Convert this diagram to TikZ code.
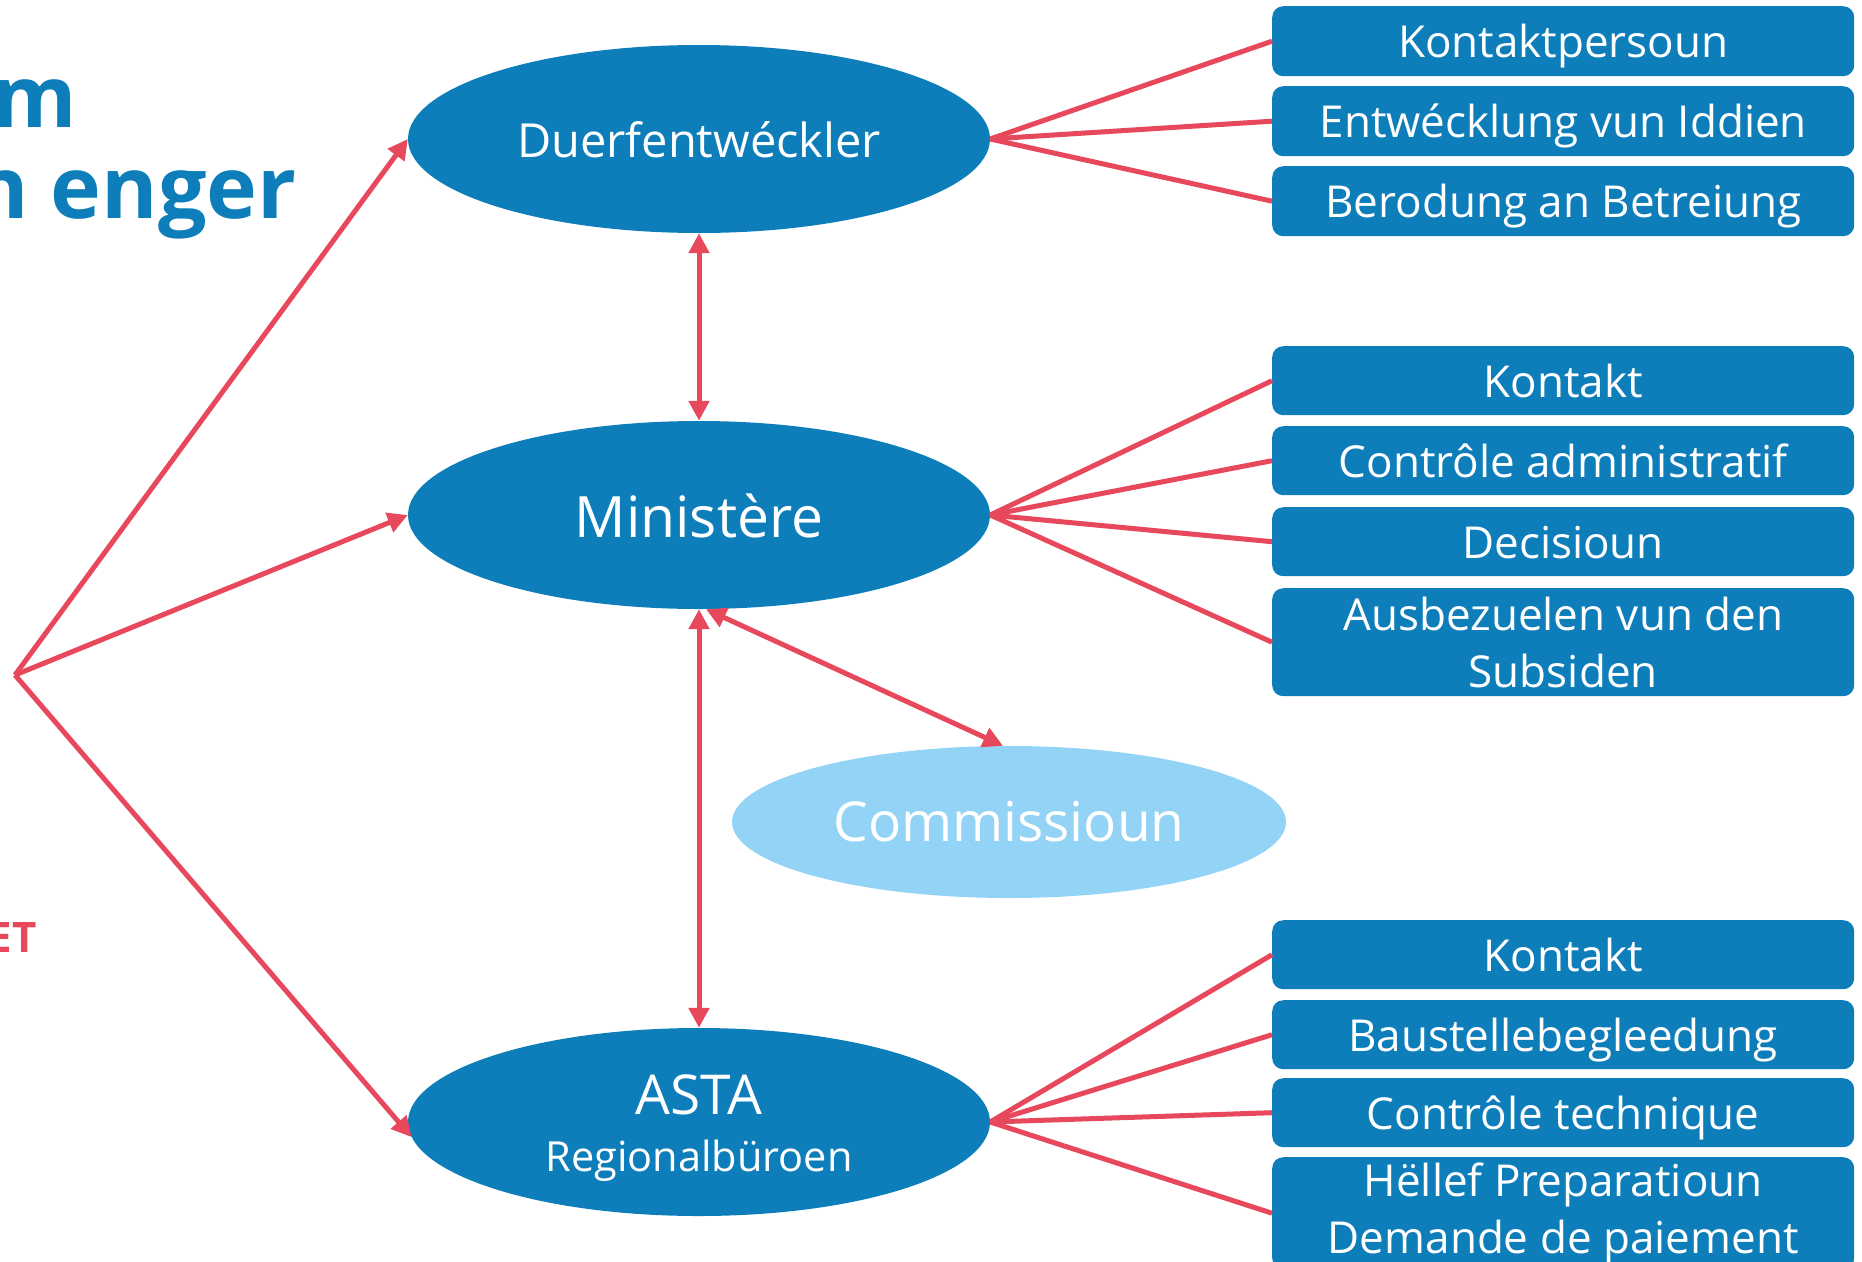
\documentclass[tikz,border=0pt]{standalone}
\usepackage{fontspec}
\setmainfont{Open Sans}
\usetikzlibrary{shapes.geometric,arrows.meta}
\definecolor{dblue}{HTML}{0E7EBB}
\definecolor{lblue}{HTML}{93D3F6}
\definecolor{lred}{HTML}{E8485C}
\tikzset{
  oval/.style={ellipse,fill=dblue,inner sep=0pt,minimum width=582pt,minimum height=188pt,text=white},
  lightoval/.style={ellipse,fill=lblue,inner sep=0pt,minimum width=554pt,minimum height=152pt,text=white},
  taskbox/.style={rectangle,rounded corners=11pt,fill=dblue,text=white,minimum width=582pt,inner sep=0pt,anchor=north west,align=center,font=\fontsize{44}{57}\selectfont},
  onebox/.style={taskbox,text height=33pt,text depth=0pt},
  link/.style={draw=lred,line width=5pt},
  arr/.style={draw=lred,line width=5pt,-{Triangle[length=20pt,width=20pt]}},
  darr/.style={draw=lred,line width=5pt,{Triangle[length=20pt,width=20pt]}-{Triangle[length=20pt,width=20pt]}},
}
\begin{document}
\begin{tikzpicture}[x=1pt,y=-1pt]
\useasboundingbox (0,0) rectangle (1862,1261);
\fill[white] (0,0) rectangle (1862,1261);
% title fragments
\node[anchor=base east,inner sep=0pt,text=dblue,font=\bfseries\fontsize{86}{100}\selectfont] (t1) at (77,127) {m};
\node[anchor=base east,inner sep=0pt,text=dblue,font=\bfseries\fontsize{86}{100}\selectfont] (t2) at (297,218) {n enger};
\node[anchor=base east,inner sep=0pt,text=lred,font=\bfseries\fontsize{42}{50}\selectfont] (t3) at (37,952) {ET};
% ellipses
\node[oval] (duerf) at (699,139) {};
\node[text=white,font=\fontsize{47}{56}\selectfont] at (699,140) {Duerfentwéckler};
\node[oval] (mini) at (699,515) {};
\node[text=white,font=\fontsize{57}{66}\selectfont] at (699,516) {Ministère};
\node[lightoval] (com) at (1009,822) {};
\node[text=white,font=\fontsize{55}{64}\selectfont] at (1009,822) {Commissioun};
\node[oval] (asta) at (699,1122) {};
\node[text=white,font=\fontsize{55}{64}\selectfont] at (699,1095) {ASTA};
\node[text=white,font=\fontsize{41.5}{50}\selectfont] at (699,1161) {Regionalbüroen};
% boxes
\node[onebox,minimum height=70pt] (b1) at (1272,6) {Kontaktpersoun};
\node[onebox,minimum height=70pt] (b2) at (1272,86) {Entwécklung vun Iddien};
\node[onebox,minimum height=70pt] (b3) at (1272,166) {Berodung an Betreiung};
\node[onebox,minimum height=69pt] (c1) at (1272,346) {Kontakt};
\node[onebox,minimum height=69pt] (c2) at (1272,426) {Contrôle administratif};
\node[onebox,minimum height=69pt] (c3) at (1272,507) {Decisioun};
\node[taskbox,minimum height=108pt] (c4) at (1272,588) {Ausbezuelen vun den\\Subsiden};
\node[onebox,minimum height=69pt] (d1) at (1272,920) {Kontakt};
\node[onebox,minimum height=69pt] (d2) at (1272,1000) {Baustellebegleedung};
\node[onebox,minimum height=69pt] (d3) at (1272,1078) {Contrôle technique};
\node[taskbox,minimum height=112pt] (d4) at (1272,1157) {Hëllef Preparatioun\\Demande de paiement};
% connectors to boxes
\foreach \b in {b1,b2,b3} \draw[link] (duerf.east) -- (\b.west);
\foreach \b in {c1,c2,c3,c4} \draw[link] (mini.east) -- (\b.west);
\foreach \b in {d1,d2,d3,d4} \draw[link] (asta.east) -- (\b.west);
% left fan
\coordinate (src) at (15,675);
\draw[arr] (src) -- (duerf.west);
\draw[arr] (src) -- (mini.west);
\draw[arr] (src) -- (asta.183);
% vertical arrows
\draw[darr] (duerf.south) -- (mini.north);
\draw[darr] (mini.south) -- (asta.north);
\draw[darr] ([xshift=7pt]mini.south) -- ([xshift=-6pt]com.north);
\end{tikzpicture}
\end{document}
